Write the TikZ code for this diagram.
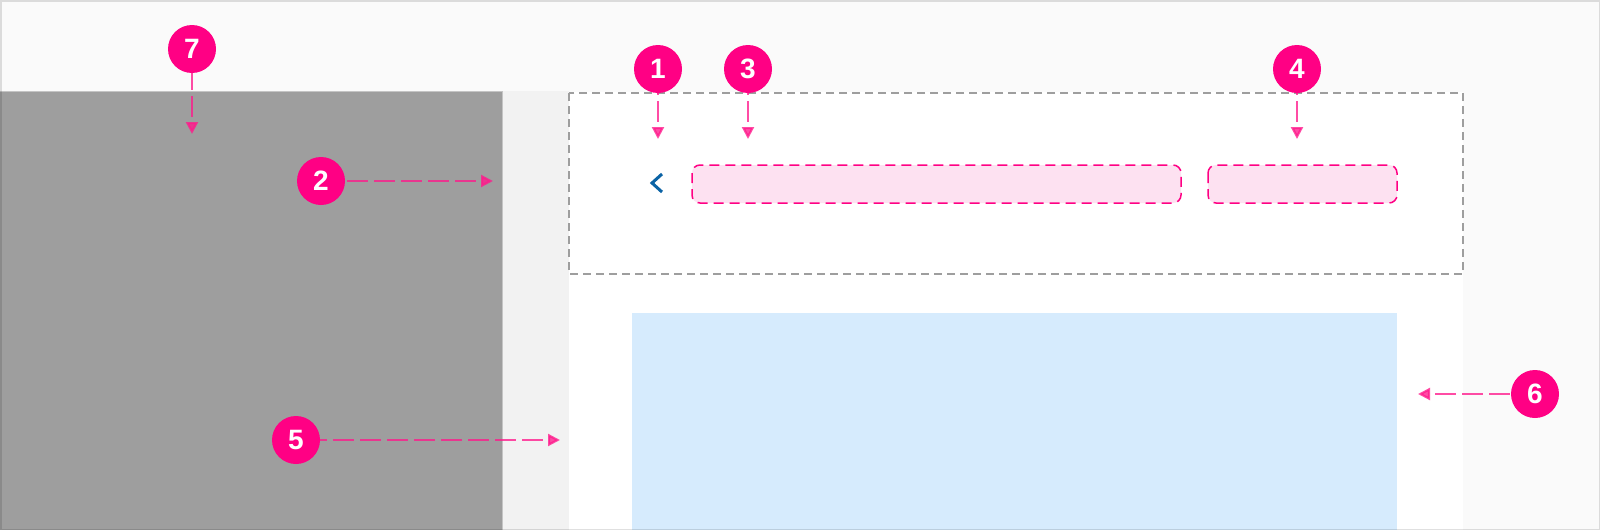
\documentclass[tikz,border=0pt]{standalone}
\usepackage{fontspec}
\setmainfont{Liberation Sans}
\usetikzlibrary{arrows.meta}
\definecolor{pagebg}{HTML}{FAFAFA}
\definecolor{navgray}{HTML}{9E9E9E}
\definecolor{navedge}{HTML}{C4C4C4}
\definecolor{gutter}{HTML}{F2F2F2}
\definecolor{badgepink}{HTML}{FF0084}
\definecolor{arrowpink}{HTML}{FF1A8C}
\definecolor{slotfill}{HTML}{FDE1F1}
\definecolor{bodyblue}{HTML}{D6EBFD}
\definecolor{backblue}{HTML}{0B63A5}

\begin{document}
\begin{tikzpicture}[x=1pt, y=-1pt,
  badge/.style={circle, fill=badgepink, text=white, minimum size=48pt, inner sep=0pt,
    font=\bfseries\fontsize{28}{28}\selectfont},
  pointer/.style={draw=arrowpink, opacity=0.78, line width=2.2pt,
    dash pattern=on 21pt off 6pt, dash phase=21pt, {Triangle[length=12pt,width=12pt]}-},
  slot/.style={draw=badgepink, fill=slotfill, line width=1.5pt,
    dash pattern=on 10pt off 6pt, rounded corners=8pt}]
  \useasboundingbox (0,0) rectangle (1600,530);
  \fill[pagebg] (0,0) rectangle (1600,530);
  \fill[navgray] (0,91) rectangle (503,530);
  \draw[navedge, line width=1pt] (0,91.5) -- (502.5,91.5) -- (502.5,530);
  \fill[gutter] (503,91) rectangle (569,530);
  \fill[white] (569,92) rectangle (1463,530);
  \draw[navgray, line width=1.5pt, dash pattern=on 8pt off 5pt] (569,93) rectangle (1463,274);
  \draw[slot] (692,165) rectangle (1181,203);
  \draw[slot] (1208,165) rectangle (1397,203);
  \fill[bodyblue] (632,313) rectangle (1397,530);
  \draw[backblue, line width=3pt] (662,174) -- (652,183) -- (662,192);
  \draw[black, opacity=0.12, line width=1.5pt] (0.75,0.75) rectangle (1599.25,529.25);

  \foreach \n/\x/\y in {7/192/49, 1/658/69, 3/748/69, 4/1297/69, 2/321/181, 5/296/440, 6/1535/394}
    \node[badge] (c\n) at (\x,\y) {\n};
  \foreach \n/\x/\y in {7/192/134, 1/658/139, 3/748/139, 4/1297/139, 2/493/181, 5/560/440, 6/1418/394} {
    \coordinate (t\n) at (\x,\y);
    \draw[pointer] (t\n) -- (c\n);
  }
\end{tikzpicture}
\end{document}
